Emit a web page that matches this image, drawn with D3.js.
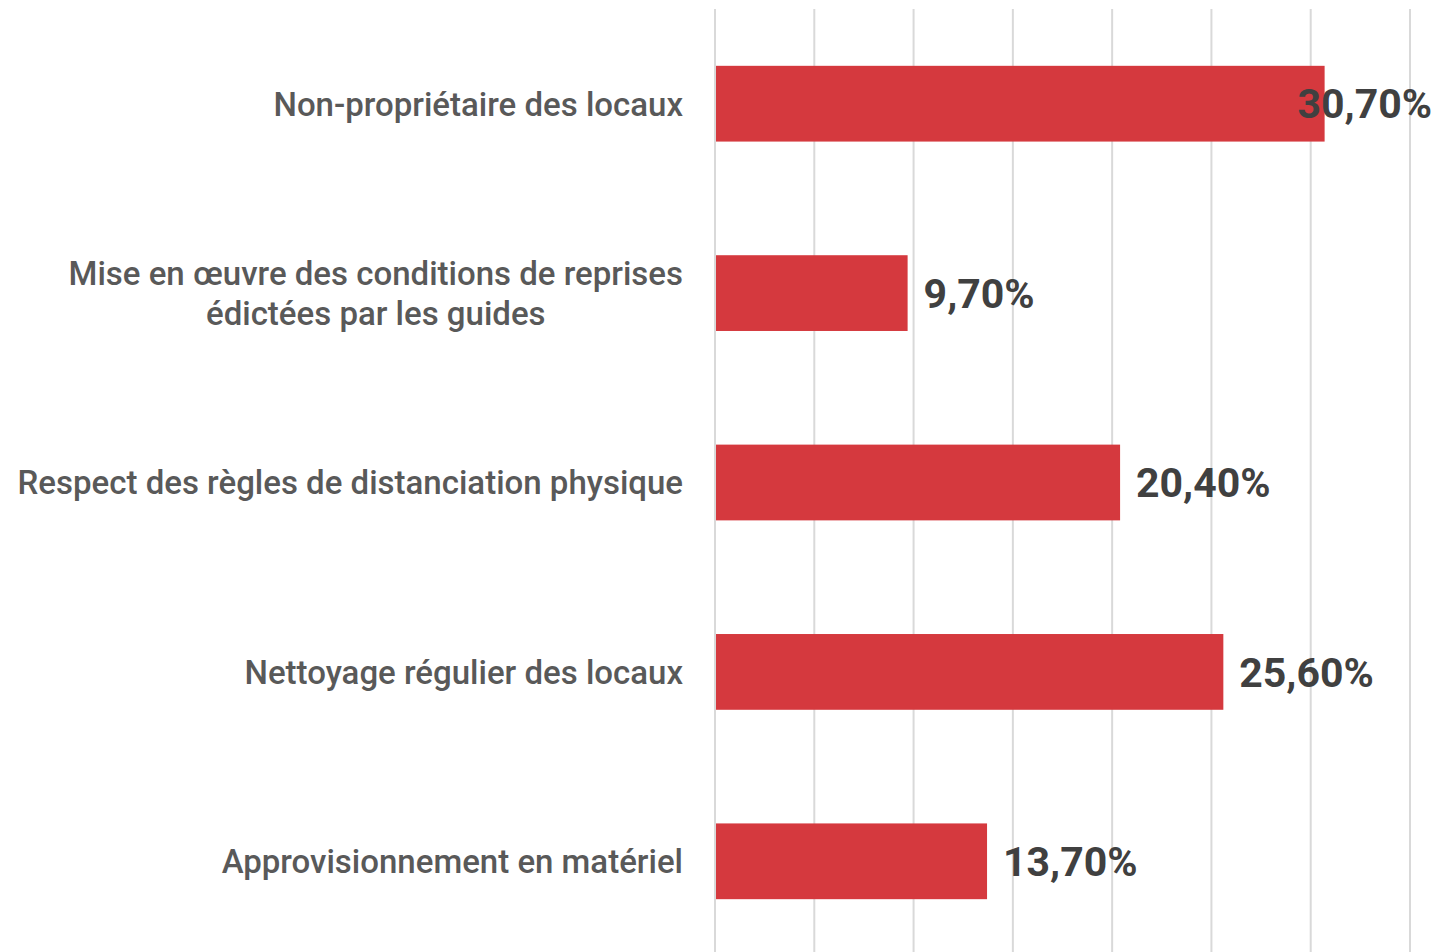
<!DOCTYPE html>
<html>
<head>
<meta charset="utf-8">
<script src="https://cdn.jsdelivr.net/npm/d3@7"></script>
<style>
  body { margin: 0; background: #fff; }
  svg text { font-family: "Roboto", "Liberation Sans", sans-serif; }
</style>
</head>
<body>
<svg id="chart" width="1446" height="952"></svg>
<script>
// categories and values
const categories = [
  "Non-propriétaire des locaux",
  "Mise en œuvre des conditions de reprises|édictées par les guides",
  "Respect des règles de distanciation physique",
  "Nettoyage régulier des locaux",
  "Approvisionnement en matériel"
];
const values = [30.7, 9.7, 20.4, 25.6, 13.7];
const valueLabels = ["30,70%", "9,70%", "20,40%", "25,60%", "13,70%"];
const gridTicks = [0, 5, 10, 15, 20, 25, 30, 35];

const margin = { top: 9, right: 36, bottom: -4, left: 715 };
const width = 1446 - margin.left - margin.right;
const height = 952 - margin.top - margin.bottom;
const labelMax = 1432 - margin.left; // value labels must not run past this

const svg = d3.select('#chart')
  .append('g')
  .attr('transform', `translate(${margin.left},${margin.top})`);

const xScale = d3.scaleLinear()
  .domain([0, 35])
  .range([0, width]);

const yScale = d3.scaleBand()
  .domain(d3.range(categories.length))
  .range([0, height])
  .paddingInner(0.6)
  .paddingOuter(0.3);

// vertical grid lines
svg.append('g')
  .selectAll('line')
  .data(gridTicks)
  .enter()
  .append('line')
  .attr('x1', d => xScale(d))
  .attr('x2', d => xScale(d))
  .attr('y1', 0)
  .attr('y2', 952)
  .attr('stroke', '#d9d9d9')
  .attr('stroke-width', 2);

// bars
svg.selectAll('rect')
  .data(values)
  .enter()
  .append('rect')
  .attr('x', 1)
  .attr('y', (_, i) => yScale(i))
  .attr('width', d => xScale(d) - 1)
  .attr('height', yScale.bandwidth())
  .attr('fill', '#d5393e');

// value labels, pushed back inside if they would overflow
svg.selectAll('.val')
  .data(values)
  .enter()
  .append('text')
  .attr('class', 'val')
  .attr('x', d => xScale(d) + 16)
  .attr('y', (_, i) => yScale(i) + yScale.bandwidth() / 2)
  .attr('dy', '0.36em')
  .attr('font-size', 41)
  .attr('font-weight', 'bold')
  .attr('fill', '#404040')
  .text((_, i) => valueLabels[i])
  .each(function(d) {
    const w = this.getComputedTextLength();
    if (xScale(d) + 16 + w > labelMax) d3.select(this).attr('x', labelMax - w);
  });

// category labels
const cat = svg.selectAll('.cat')
  .data(categories)
  .enter()
  .append('text')
  .attr('class', 'cat')
  .attr('text-anchor', 'middle')
  .attr('font-size', 33)
  .attr('font-weight', 500)
  .attr('fill', '#595959')
  .attr('y', (_, i) => yScale(i) + yScale.bandwidth() / 2);

cat.each(function(d) {
  const lines = d.split('|');
  const t = d3.select(this);
  lines.forEach((ln, j) => {
    t.append('tspan')
      .attr('x', -32)
      .attr('dy', j === 0 ? `${0.36 - (lines.length - 1) * 0.6}em` : '1.2em')
      .text(ln);
  });
});

// right-align the label blocks, centre lines within a block
cat.each(function() {
  const spans = d3.select(this).selectAll('tspan').nodes();
  const w = d3.max(spans, s => s.getComputedTextLength());
  spans.forEach(s => d3.select(s).attr('x', -32 - w / 2));
});
</script>
</body>
</html>
